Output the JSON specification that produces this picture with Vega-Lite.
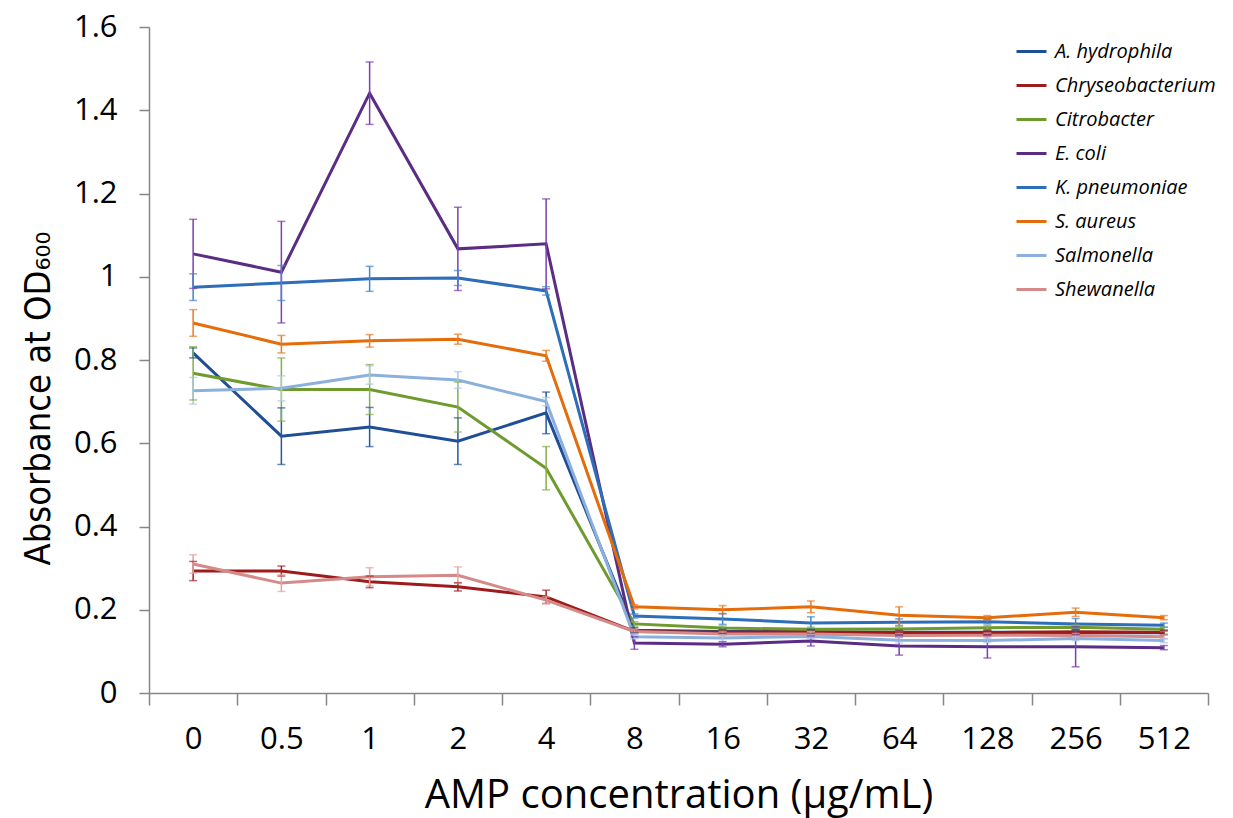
{
  "$schema": "https://vega.github.io/schema/vega-lite/v6.json",
  "autosize": "none",
  "width": 1059,
  "height": 666,
  "padding": {"left": 149, "top": 27, "right": 25, "bottom": 125},
  "background": "white",
  "config": {
    "view": {"stroke": null},
    "axis": {"grid": false, "labelFont": "Open Sans", "titleFont": "Open Sans", "labelColor": "#000000", "titleColor": "#000000", "domainColor": "#868686", "tickColor": "#868686", "domainWidth": 1.5, "tickWidth": 1.5, "titleFontWeight": "normal"}
  },
  "data": {"values": [
    {"species":"A. hydrophila","conc":"0","od":0.817,"lo":0.805,"hi":0.829},
    {"species":"A. hydrophila","conc":"0.5","od":0.617,"lo":0.549,"hi":0.685},
    {"species":"A. hydrophila","conc":"1","od":0.639,"lo":0.592,"hi":0.686},
    {"species":"A. hydrophila","conc":"2","od":0.605,"lo":0.549,"hi":0.661},
    {"species":"A. hydrophila","conc":"4","od":0.673,"lo":0.623,"hi":0.723},
    {"species":"A. hydrophila","conc":"8","od":0.151,"lo":0.145,"hi":0.157},
    {"species":"A. hydrophila","conc":"16","od":0.148,"lo":0.143,"hi":0.153},
    {"species":"A. hydrophila","conc":"32","od":0.147,"lo":0.142,"hi":0.152},
    {"species":"A. hydrophila","conc":"64","od":0.146,"lo":0.141,"hi":0.151},
    {"species":"A. hydrophila","conc":"128","od":0.146,"lo":0.141,"hi":0.151},
    {"species":"A. hydrophila","conc":"256","od":0.145,"lo":0.14,"hi":0.15},
    {"species":"A. hydrophila","conc":"512","od":0.145,"lo":0.14,"hi":0.15},
    {"species":"Chryseobacterium","conc":"0","od":0.293,"lo":0.27,"hi":0.316},
    {"species":"Chryseobacterium","conc":"0.5","od":0.293,"lo":0.281,"hi":0.305},
    {"species":"Chryseobacterium","conc":"1","od":0.267,"lo":0.253,"hi":0.281},
    {"species":"Chryseobacterium","conc":"2","od":0.255,"lo":0.245,"hi":0.265},
    {"species":"Chryseobacterium","conc":"4","od":0.231,"lo":0.215,"hi":0.247},
    {"species":"Chryseobacterium","conc":"8","od":0.148,"lo":0.143,"hi":0.153},
    {"species":"Chryseobacterium","conc":"16","od":0.146,"lo":0.141,"hi":0.151},
    {"species":"Chryseobacterium","conc":"32","od":0.147,"lo":0.142,"hi":0.152},
    {"species":"Chryseobacterium","conc":"64","od":0.144,"lo":0.139,"hi":0.149},
    {"species":"Chryseobacterium","conc":"128","od":0.145,"lo":0.14,"hi":0.15},
    {"species":"Chryseobacterium","conc":"256","od":0.147,"lo":0.142,"hi":0.152},
    {"species":"Chryseobacterium","conc":"512","od":0.146,"lo":0.141,"hi":0.151},
    {"species":"Citrobacter","conc":"0","od":0.768,"lo":0.704,"hi":0.832},
    {"species":"Citrobacter","conc":"0.5","od":0.729,"lo":0.653,"hi":0.805},
    {"species":"Citrobacter","conc":"1","od":0.729,"lo":0.669,"hi":0.789},
    {"species":"Citrobacter","conc":"2","od":0.687,"lo":0.627,"hi":0.747},
    {"species":"Citrobacter","conc":"4","od":0.54,"lo":0.488,"hi":0.592},
    {"species":"Citrobacter","conc":"8","od":0.166,"lo":0.161,"hi":0.171},
    {"species":"Citrobacter","conc":"16","od":0.156,"lo":0.151,"hi":0.161},
    {"species":"Citrobacter","conc":"32","od":0.153,"lo":0.148,"hi":0.158},
    {"species":"Citrobacter","conc":"64","od":0.154,"lo":0.149,"hi":0.159},
    {"species":"Citrobacter","conc":"128","od":0.157,"lo":0.152,"hi":0.162},
    {"species":"Citrobacter","conc":"256","od":0.158,"lo":0.153,"hi":0.163},
    {"species":"Citrobacter","conc":"512","od":0.153,"lo":0.148,"hi":0.158},
    {"species":"E. coli","conc":"0","od":1.055,"lo":0.972,"hi":1.138},
    {"species":"E. coli","conc":"0.5","od":1.011,"lo":0.889,"hi":1.133},
    {"species":"E. coli","conc":"1","od":1.441,"lo":1.366,"hi":1.516},
    {"species":"E. coli","conc":"2","od":1.067,"lo":0.967,"hi":1.167},
    {"species":"E. coli","conc":"4","od":1.079,"lo":0.971,"hi":1.187},
    {"species":"E. coli","conc":"8","od":0.12,"lo":0.105,"hi":0.135},
    {"species":"E. coli","conc":"16","od":0.117,"lo":0.111,"hi":0.123},
    {"species":"E. coli","conc":"32","od":0.125,"lo":0.113,"hi":0.137},
    {"species":"E. coli","conc":"64","od":0.113,"lo":0.091,"hi":0.135},
    {"species":"E. coli","conc":"128","od":0.111,"lo":0.084,"hi":0.138},
    {"species":"E. coli","conc":"256","od":0.111,"lo":0.063,"hi":0.159},
    {"species":"E. coli","conc":"512","od":0.109,"lo":0.104,"hi":0.114},
    {"species":"K. pneumoniae","conc":"0","od":0.975,"lo":0.943,"hi":1.007},
    {"species":"K. pneumoniae","conc":"0.5","od":0.985,"lo":0.943,"hi":1.027},
    {"species":"K. pneumoniae","conc":"1","od":0.995,"lo":0.965,"hi":1.025},
    {"species":"K. pneumoniae","conc":"2","od":0.997,"lo":0.979,"hi":1.015},
    {"species":"K. pneumoniae","conc":"4","od":0.966,"lo":0.956,"hi":0.976},
    {"species":"K. pneumoniae","conc":"8","od":0.185,"lo":0.18,"hi":0.19},
    {"species":"K. pneumoniae","conc":"16","od":0.178,"lo":0.165,"hi":0.191},
    {"species":"K. pneumoniae","conc":"32","od":0.168,"lo":0.153,"hi":0.183},
    {"species":"K. pneumoniae","conc":"64","od":0.17,"lo":0.162,"hi":0.178},
    {"species":"K. pneumoniae","conc":"128","od":0.171,"lo":0.166,"hi":0.176},
    {"species":"K. pneumoniae","conc":"256","od":0.166,"lo":0.153,"hi":0.179},
    {"species":"K. pneumoniae","conc":"512","od":0.163,"lo":0.158,"hi":0.168},
    {"species":"S. aureus","conc":"0","od":0.889,"lo":0.857,"hi":0.921},
    {"species":"S. aureus","conc":"0.5","od":0.838,"lo":0.817,"hi":0.859},
    {"species":"S. aureus","conc":"1","od":0.846,"lo":0.831,"hi":0.861},
    {"species":"S. aureus","conc":"2","od":0.85,"lo":0.838,"hi":0.862},
    {"species":"S. aureus","conc":"4","od":0.81,"lo":0.797,"hi":0.823},
    {"species":"S. aureus","conc":"8","od":0.207,"lo":0.202,"hi":0.212},
    {"species":"S. aureus","conc":"16","od":0.2,"lo":0.19,"hi":0.21},
    {"species":"S. aureus","conc":"32","od":0.207,"lo":0.193,"hi":0.221},
    {"species":"S. aureus","conc":"64","od":0.187,"lo":0.167,"hi":0.207},
    {"species":"S. aureus","conc":"128","od":0.181,"lo":0.176,"hi":0.186},
    {"species":"S. aureus","conc":"256","od":0.194,"lo":0.184,"hi":0.204},
    {"species":"S. aureus","conc":"512","od":0.181,"lo":0.176,"hi":0.186},
    {"species":"Salmonella","conc":"0","od":0.726,"lo":0.694,"hi":0.758},
    {"species":"Salmonella","conc":"0.5","od":0.732,"lo":0.702,"hi":0.762},
    {"species":"Salmonella","conc":"1","od":0.764,"lo":0.742,"hi":0.786},
    {"species":"Salmonella","conc":"2","od":0.752,"lo":0.732,"hi":0.772},
    {"species":"Salmonella","conc":"4","od":0.7,"lo":0.69,"hi":0.71},
    {"species":"Salmonella","conc":"8","od":0.135,"lo":0.13,"hi":0.14},
    {"species":"Salmonella","conc":"16","od":0.132,"lo":0.124,"hi":0.14},
    {"species":"Salmonella","conc":"32","od":0.136,"lo":0.131,"hi":0.141},
    {"species":"Salmonella","conc":"64","od":0.127,"lo":0.12,"hi":0.134},
    {"species":"Salmonella","conc":"128","od":0.126,"lo":0.121,"hi":0.131},
    {"species":"Salmonella","conc":"256","od":0.131,"lo":0.126,"hi":0.136},
    {"species":"Salmonella","conc":"512","od":0.126,"lo":0.121,"hi":0.131},
    {"species":"Shewanella","conc":"0","od":0.31,"lo":0.288,"hi":0.332},
    {"species":"Shewanella","conc":"0.5","od":0.264,"lo":0.244,"hi":0.284},
    {"species":"Shewanella","conc":"1","od":0.279,"lo":0.257,"hi":0.301},
    {"species":"Shewanella","conc":"2","od":0.283,"lo":0.263,"hi":0.303},
    {"species":"Shewanella","conc":"4","od":0.223,"lo":0.215,"hi":0.231},
    {"species":"Shewanella","conc":"8","od":0.148,"lo":0.143,"hi":0.153},
    {"species":"Shewanella","conc":"16","od":0.142,"lo":0.137,"hi":0.147},
    {"species":"Shewanella","conc":"32","od":0.142,"lo":0.137,"hi":0.147},
    {"species":"Shewanella","conc":"64","od":0.138,"lo":0.133,"hi":0.143},
    {"species":"Shewanella","conc":"128","od":0.139,"lo":0.134,"hi":0.144},
    {"species":"Shewanella","conc":"256","od":0.138,"lo":0.133,"hi":0.143},
    {"species":"Shewanella","conc":"512","od":0.135,"lo":0.13,"hi":0.14}
  ]},
  "encoding": {
    "x": {
      "field": "conc", "type": "ordinal",
      "sort": ["0","0.5","1","2","4","8","16","32","64","128","256","512"],
      "bandPosition": 0.5,
      "scale": {"type": "band", "paddingInner": 0, "paddingOuter": 0},
      "axis": {"title": "AMP concentration (μg/mL)", "titleFontSize": 40, "titlePadding": 21, "labelFontSize": 31, "labelAngle": 0, "tickSize": 12, "labelPadding": 19, "tickBand": "extent"}
    }
  },
  "layer": [
    {
      "mark": {"type": "line", "strokeWidth": 3},
      "encoding": {
        "y": {
          "field": "od", "type": "quantitative",
          "scale": {"domain": [0, 1.6], "nice": false},
          "axis": {"title": "Absorbance at OD₆₀₀", "titleFont": "DejaVu Sans Condensed, Liberation Sans Narrow, Open Sans", "titleFontSize": 36, "titleX": -111, "titleY": 371, "titleAlign": "center", "titleBaseline": "middle", "titleAngle": -90, "values": [0,0.2,0.4,0.6,0.8,1,1.2,1.4,1.6], "format": "~g", "labelFontSize": 31, "tickSize": 10, "labelPadding": 22}
        },
        "color": {
          "field": "species", "type": "nominal",
          "scale": {"domain": ["A. hydrophila","Chryseobacterium","Citrobacter","E. coli","K. pneumoniae","S. aureus","Salmonella","Shewanella"], "range": ["#1F4E96","#9E1B1B","#6F9A2E","#5B2C83","#2E6DB8","#E46C0A","#8CB0DE","#D48A88"]},
          "legend": {"title": null, "orient": "none", "legendX": 866, "legendY": 8, "symbolType": "stroke", "symbolSize": 900, "symbolStrokeWidth": 3, "labelFont": "Open Sans", "labelFontStyle": "italic", "labelFontSize": 20, "labelColor": "#000000", "labelLimit": 400, "rowPadding": 7, "labelOffset": 7}
        }
      }
    },
    {
      "mark": {"type": "rule", "strokeWidth": 1.5},
      "encoding": {
        "y": {"field": "lo", "type": "quantitative"},
        "y2": {"field": "hi"},
        "color": {"field": "species", "type": "nominal", "legend": null,
          "scale": {"domain": ["A. hydrophila","Chryseobacterium","Citrobacter","E. coli","K. pneumoniae","S. aureus","Salmonella","Shewanella"], "range": ["#23579E","#A52525","#86AE45","#7B3FB0","#4285CC","#EA7B22","#A9C6EA","#E4A3A1"]}}
      }
    },
    {
      "mark": {"type": "tick", "size": 8, "thickness": 1.5},
      "encoding": {
        "y": {"field": "lo", "type": "quantitative"},
        "color": {"field": "species", "type": "nominal", "legend": null,
          "scale": {"domain": ["A. hydrophila","Chryseobacterium","Citrobacter","E. coli","K. pneumoniae","S. aureus","Salmonella","Shewanella"], "range": ["#23579E","#A52525","#86AE45","#7B3FB0","#4285CC","#EA7B22","#A9C6EA","#E4A3A1"]}}
      }
    },
    {
      "mark": {"type": "tick", "size": 8, "thickness": 1.5},
      "encoding": {
        "y": {"field": "hi", "type": "quantitative"},
        "color": {"field": "species", "type": "nominal", "legend": null,
          "scale": {"domain": ["A. hydrophila","Chryseobacterium","Citrobacter","E. coli","K. pneumoniae","S. aureus","Salmonella","Shewanella"], "range": ["#23579E","#A52525","#86AE45","#7B3FB0","#4285CC","#EA7B22","#A9C6EA","#E4A3A1"]}}
      }
    }
  ],
  "resolve": {"scale": {"color": "independent"}}
}
